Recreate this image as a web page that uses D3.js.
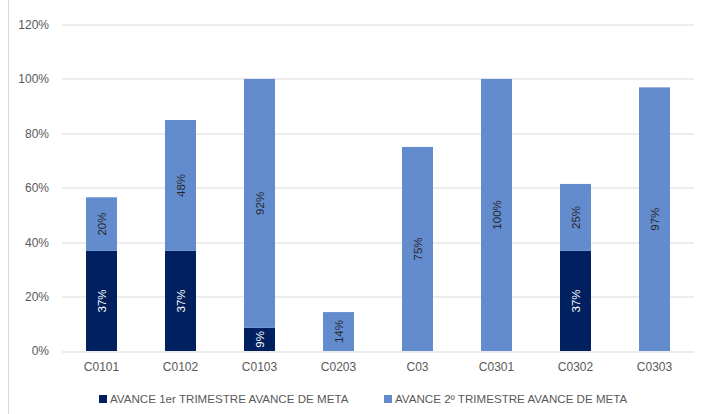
<!DOCTYPE html>
<html>
<head>
<meta charset="utf-8">
<script src="https://cdn.jsdelivr.net/npm/d3@7"></script>
<style>
  body { margin: 0; background: #fff; }
  svg { font-family: "Liberation Sans", Arial, sans-serif; }
</style>
</head>
<body>
<div id="chart"></div>
<script>
// chart data
const categories = ["C0101", "C0102", "C0103", "C0203", "C03", "C0301", "C0302", "C0303"];
const trim1 = [0.368, 0.368, 0.085, 0, 0, 0, 0.368, 0];
const trim2 = [0.197, 0.481, 0.915, 0.143, 0.75, 1.0, 0.246, 0.969];
const trim1Labels = ["37%", "37%", "9%", "", "", "", "37%", ""];
const trim2Labels = ["20%", "48%", "92%", "14%", "75%", "100%", "25%", "97%"];
const seriesNames = ["AVANCE 1er TRIMESTRE AVANCE DE META", "AVANCE 2º TRIMESTRE AVANCE DE META"];
const yTicks = [0, 0.2, 0.4, 0.6, 0.8, 1.0, 1.2];

const colors = ["#002060", "#638ccf"];

let W = 708, H = 414;
let margin = {top: 24.5, right: 14, bottom: 63, left: 62};
let width = W - margin.left - margin.right,
    height = H - margin.top - margin.bottom;

let svg = d3.select("#chart").append("svg")
    .attr("width", W).attr("height", H);

// chart area border on the left
svg.append("line")
    .attr("x1", 8.5).attr("x2", 8.5).attr("y1", 0).attr("y2", H)
    .attr("stroke", "#d9d9d9");

let g = svg.append("g").attr("transform", `translate(${margin.left}, ${margin.top})`);

let x = d3.scaleBand().domain(categories).range([0, width])
    .paddingInner(0.608).paddingOuter(0.304);
let y = d3.scaleLinear().domain([0, 1.2]).range([height, 0]);

// gridlines
g.selectAll(".grid").data(yTicks).enter().append("line")
    .attr("x1", 0).attr("x2", width)
    .attr("y1", d => Math.round(y(d)) + 0.5).attr("y2", d => Math.round(y(d)) + 0.5)
    .attr("stroke", "#d9d9d9").attr("stroke-width", 1.2);

// y axis labels
let yAxis = d3.axisLeft(y).tickValues(yTicks).tickFormat(d3.format(".0%")).tickSize(0).tickPadding(13);
g.append("g").call(yAxis)
    .call(a => a.select(".domain").remove())
    .selectAll("text").attr("fill", "#595959").style("font-size", "12px");

// x axis labels
let xAxis = d3.axisBottom(x).tickSize(0).tickPadding(11);
g.append("g").attr("transform", `translate(0, ${height})`).call(xAxis)
    .call(a => a.select(".domain").remove())
    .selectAll("text").attr("fill", "#595959").style("font-size", "12px");

// stacked rows
let rows = categories.map((c, i) => ({cat: c, s0: trim1[i], s1: trim2[i], l0: trim1Labels[i], l1: trim2Labels[i]}));

let bars = g.selectAll(".bar").data(rows).enter().append("g").attr("class", "bar");

bars.append("rect")
    .attr("x", d => x(d.cat)).attr("width", x.bandwidth())
    .attr("y", d => y(d.s0)).attr("height", d => height - y(d.s0))
    .attr("fill", colors[0]);

bars.append("rect")
    .attr("x", d => x(d.cat)).attr("width", x.bandwidth())
    .attr("y", d => y(d.s0 + d.s1)).attr("height", d => y(d.s0) - y(d.s0 + d.s1))
    .attr("fill", colors[1]);

// rotated value labels
function label(sel, getY, getText, fill) {
    sel.append("text")
        .attr("transform", d => `translate(${x(d.cat) + x.bandwidth() / 2}, ${getY(d)}) rotate(-90)`)
        .attr("text-anchor", "middle").attr("dy", "0.35em")
        .attr("fill", fill).style("font-size", "11.5px")
        .text(getText);
}
label(bars.filter(d => d.l0 !== ""), d => (y(0) + y(d.s0)) / 2, d => d.l0, "#ffffff");
label(bars, d => (y(d.s0) + y(d.s0 + d.s1)) / 2, d => d.l1, "#262626");

// legend
let legendX = [99, 384];
let legend = svg.selectAll(".legend").data(seriesNames).enter().append("g")
    .attr("transform", (d, i) => `translate(${legendX[i]}, 399)`);
legend.append("rect").attr("x", 0).attr("y", -4).attr("width", 8).attr("height", 8)
    .attr("fill", (d, i) => colors[i]);
legend.append("text").attr("x", 11).attr("dy", "0.35em")
    .attr("fill", "#595959").style("font-size", "11.6px")
    .text(d => d);
</script>
</body>
</html>
